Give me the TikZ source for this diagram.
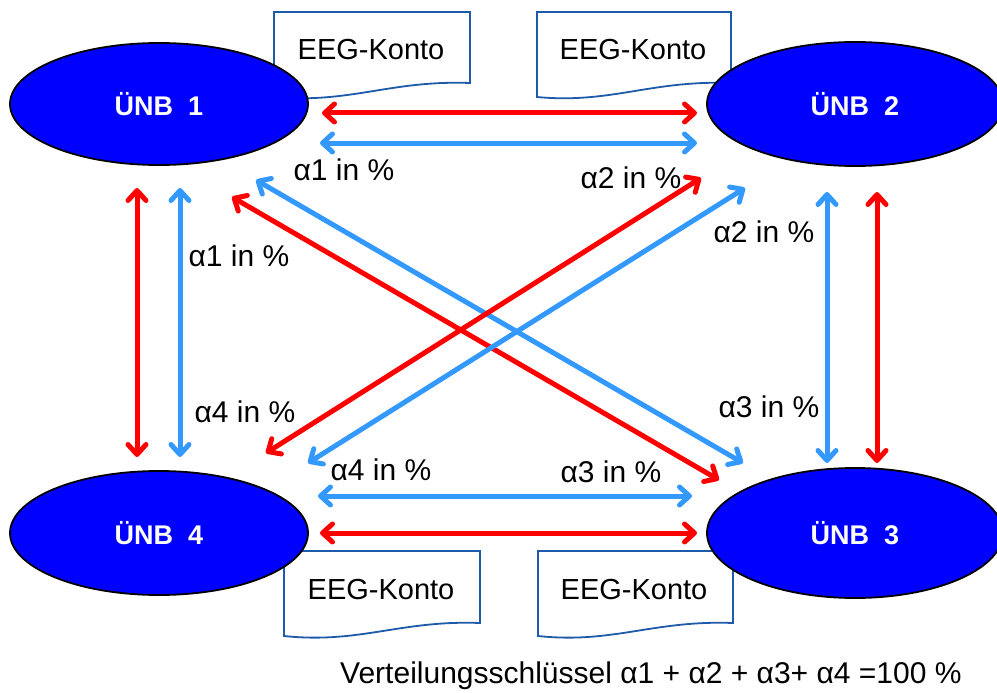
\documentclass[tikz,border=0pt]{standalone}
\usepackage{fontspec}
\setmainfont{Liberation Sans}
\usetikzlibrary{arrows.meta,shapes.geometric}
\definecolor{arrred}{RGB}{255,0,0}
\definecolor{arrblue}{RGB}{51,153,255}
\definecolor{docblue}{RGB}{30,90,170}
\definecolor{ellblue}{RGB}{0,0,255}
\begin{document}
\begin{tikzpicture}[x=1pt,y=-1pt,
  ell/.style={ellipse,draw=black,line width=1.8pt,fill=ellblue,text=white,font=\fontsize{27}{32}\selectfont\bfseries},
  doc/.style={draw=docblue,line width=1.8pt,fill=white},
  doctext/.style={font=\fontsize{29}{34}\selectfont,text=black},
  lbl/.style={font=\fontsize{30}{36}\selectfont,text=black,inner sep=0pt},
  dbl/.style={line width=5pt,{Straight Barb[length=10pt,width=18pt,round]}-{Straight Barb[length=10pt,width=18pt,round]}},
  red/.style={dbl,draw=arrred},
  blu/.style={dbl,draw=arrblue}]
\useasboundingbox (0,0) rectangle (997,693);
% EEG documents
\draw[doc] (274,12) -- (470,12) -- (470,83) .. controls (390,80) and (350,104) .. (274,97) -- cycle;
\node[doctext] (d1) at (371,50) {EEG-Konto};
\draw[doc] (537,12) -- (731,12) -- (731,83) .. controls (651,80) and (611,104) .. (537,97) -- cycle;
\node[doctext] (d2) at (633,50) {EEG-Konto};
\draw[doc] (284,551) -- (480,551) -- (480,623) .. controls (400,620) and (360,644) .. (284,636) -- cycle;
\node[doctext] (d4) at (381,590) {EEG-Konto};
\draw[doc] (538,551) -- (733,551) -- (733,623) .. controls (653,620) and (613,644) .. (538,636) -- cycle;
\node[doctext] (d3) at (634,590) {EEG-Konto};
% ellipses
\node[ell,minimum width=298pt,minimum height=122pt] (u1) at (159,104) {ÜNB\ \ 1};
\node[ell,minimum width=296pt,minimum height=124pt] (u2) at (855,104) {ÜNB\ \ 2};
\node[ell,minimum width=298pt,minimum height=124pt] (u4) at (159,533) {ÜNB\ \ 4};
\node[ell,minimum width=296pt,minimum height=130pt] (u3) at (855,533) {ÜNB\ \ 3};
% arrow end points
\coordinate (r12a) at (322,113); \coordinate (r12b) at (697,113);
\coordinate (b12a) at (320,143); \coordinate (b12b) at (697,143);
\coordinate (b43a) at (318,496); \coordinate (b43b) at (692,496);
\coordinate (r43a) at (320,533); \coordinate (r43b) at (697,533);
\coordinate (r14a) at (137,188); \coordinate (r14b) at (137,457);
\coordinate (b14a) at (180,188); \coordinate (b14b) at (180,457);
\coordinate (b23a) at (827,192); \coordinate (b23b) at (827,463);
\coordinate (r23a) at (877,192); \coordinate (r23b) at (877,463);
\coordinate (b13a) at (256,180); \coordinate (b13b) at (743,463);
\coordinate (r13a) at (232,197); \coordinate (r13b) at (719,480);
\coordinate (r24a) at (701,178); \coordinate (r24b) at (266,453);
\coordinate (b24a) at (745,188); \coordinate (b24b) at (308,463);
% arrows
\draw[red] (r12a) -- (r12b);
\draw[blu] (b12a) -- (b12b);
\draw[blu] (b43a) -- (b43b);
\draw[red] (r43a) -- (r43b);
\draw[red] (r14a) -- (r14b);
\draw[blu] (b14a) -- (b14b);
\draw[blu] (b23a) -- (b23b);
\draw[red] (r23a) -- (r23b);
\draw[blu] (b13a) -- (b13b);
\draw[red] (r13a) -- (r13b);
\draw[red] (r24a) -- (r24b);
\draw[blu] (b24a) -- (b24b);
% labels
\node[lbl] (l1) at (344,170) {α1 in \%};
\node[lbl] (l2) at (631,178) {α2 in \%};
\node[lbl] (l3) at (239,256) {α1 in \%};
\node[lbl] (l4) at (764,232) {α2 in \%};
\node[lbl] (l5) at (245,412) {α4 in \%};
\node[lbl] (l6) at (769,407) {α3 in \%};
\node[lbl] (l7) at (381,470) {α4 in \%};
\node[lbl] (l8) at (611,472) {α3 in \%};
\node[lbl,anchor=west] (key) at (340,676) {Verteilungsschlüssel α1 + α2 + α3+ α4 =100 \%};
\end{tikzpicture}
\end{document}
